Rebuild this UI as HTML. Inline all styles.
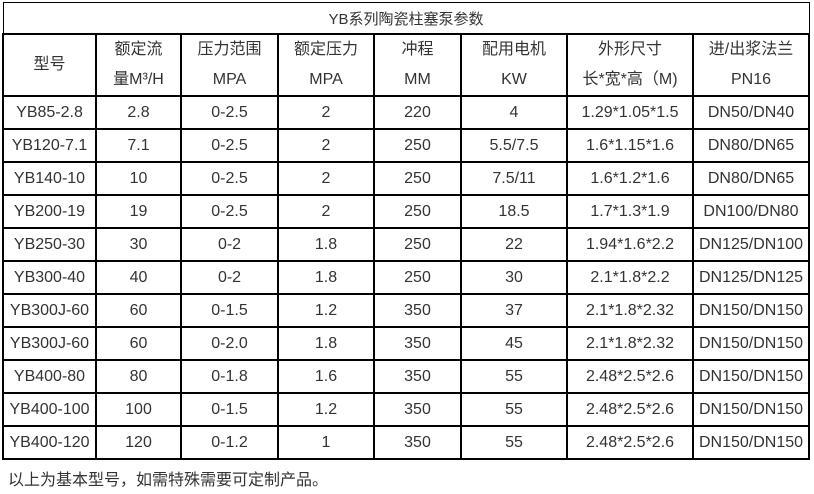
<!DOCTYPE html>
<html><head><meta charset="utf-8"><style>
body{margin:0;background:#fff;width:814px;height:494px;overflow:hidden;font-family:"Liberation Sans","Noto Sans CJK SC",sans-serif;color:#333;}
table{position:absolute;left:2px;top:2px;border-collapse:collapse;table-layout:fixed;width:806px;}
td{border:2px solid #000;text-align:center;font-size:16px;padding:0;height:31px;white-space:nowrap;overflow:hidden;}
tr.t td{height:30px;border-width:1px;font-size:15px;}
tr.h td{height:60px;line-height:30px;}
.f{position:absolute;left:8px;top:466px;font-size:16px;}
</style></head><body>
<table>
<colgroup><col style="width:93px"><col style="width:85px"><col style="width:97px"><col style="width:96px"><col style="width:87px"><col style="width:106px"><col style="width:126px"><col style="width:116px"></colgroup>
<tr class="t"><td colspan="8">YB系列陶瓷柱塞泵参数</td></tr>
<tr class="h"><td>型号</td><td>额定流<br>量M³/H</td><td>压力范围<br>MPA</td><td>额定压力<br>MPA</td><td>冲程<br>MM</td><td>配用电机<br>KW</td><td>外形尺寸<br>长*宽*高（M)</td><td>进/出浆法兰<br>PN16</td></tr>
<tr><td>YB85-2.8</td><td>2.8</td><td>0-2.5</td><td>2</td><td>220</td><td>4</td><td>1.29*1.05*1.5</td><td>DN50/DN40</td></tr>
<tr><td>YB120-7.1</td><td>7.1</td><td>0-2.5</td><td>2</td><td>250</td><td>5.5/7.5</td><td>1.6*1.15*1.6</td><td>DN80/DN65</td></tr>
<tr><td>YB140-10</td><td>10</td><td>0-2.5</td><td>2</td><td>250</td><td>7.5/11</td><td>1.6*1.2*1.6</td><td>DN80/DN65</td></tr>
<tr><td>YB200-19</td><td>19</td><td>0-2.5</td><td>2</td><td>250</td><td>18.5</td><td>1.7*1.3*1.9</td><td>DN100/DN80</td></tr>
<tr><td>YB250-30</td><td>30</td><td>0-2</td><td>1.8</td><td>250</td><td>22</td><td>1.94*1.6*2.2</td><td>DN125/DN100</td></tr>
<tr><td>YB300-40</td><td>40</td><td>0-2</td><td>1.8</td><td>250</td><td>30</td><td>2.1*1.8*2.2</td><td>DN125/DN125</td></tr>
<tr><td>YB300J-60</td><td>60</td><td>0-1.5</td><td>1.2</td><td>350</td><td>37</td><td>2.1*1.8*2.32</td><td>DN150/DN150</td></tr>
<tr><td>YB300J-60</td><td>60</td><td>0-2.0</td><td>1.8</td><td>350</td><td>45</td><td>2.1*1.8*2.32</td><td>DN150/DN150</td></tr>
<tr><td>YB400-80</td><td>80</td><td>0-1.8</td><td>1.6</td><td>350</td><td>55</td><td>2.48*2.5*2.6</td><td>DN150/DN150</td></tr>
<tr><td>YB400-100</td><td>100</td><td>0-1.5</td><td>1.2</td><td>350</td><td>55</td><td>2.48*2.5*2.6</td><td>DN150/DN150</td></tr>
<tr><td>YB400-120</td><td>120</td><td>0-1.2</td><td>1</td><td>350</td><td>55</td><td>2.48*2.5*2.6</td><td>DN150/DN150</td></tr>
</table>
<div class="f">以上为基本型号，如需特殊需要可定制产品。</div>
</body></html>
